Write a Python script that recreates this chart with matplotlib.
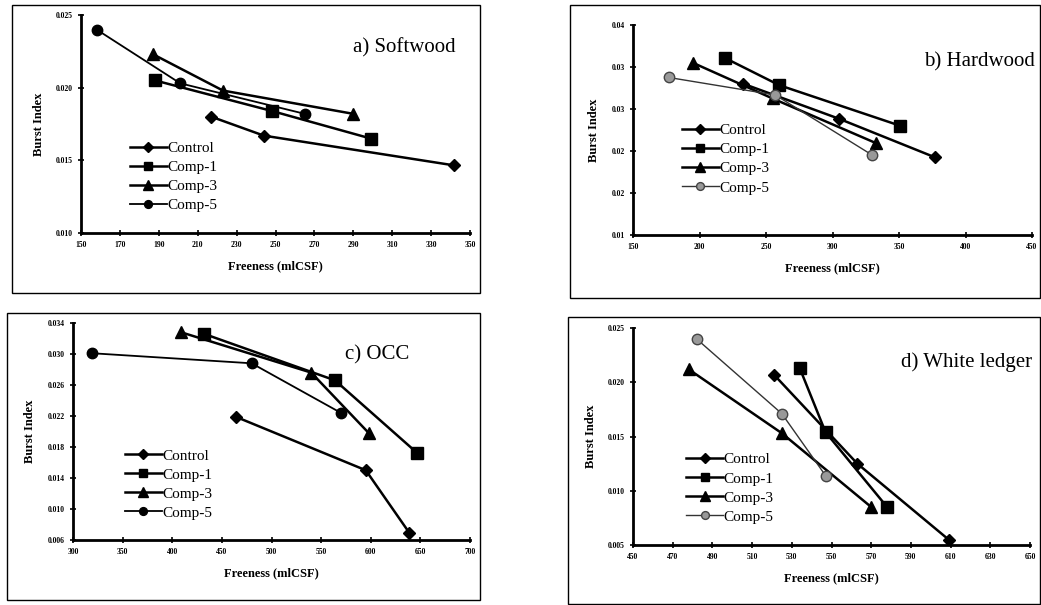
import numpy as np
import matplotlib
matplotlib.use('Agg')
import matplotlib.pyplot as plt
from matplotlib.patches import Rectangle

# ============================================================
# DATA (doc tu hinh)
# ============================================================
series = ["Control", "Comp-1", "Comp-3", "Comp-5"]

# a) Softwood
a_x_control = [217, 244, 342]
a_y_control = [0.0180, 0.0167, 0.01465]
a_x_comp1 = [188, 248, 299]
a_y_comp1 = [0.0205, 0.0184, 0.0165]
a_x_comp3 = [187, 223, 290]
a_y_comp3 = [0.0223, 0.0198, 0.0182]
a_x_comp5 = [158, 201, 265]
a_y_comp5 = [0.0240, 0.0203, 0.0182]

# b) Hardwood
b_x_control = [233, 305, 377]
b_y_control = [0.0316, 0.0266, 0.0211]
b_x_comp1 = [219, 260, 351]
b_y_comp1 = [0.0353, 0.0314, 0.0256]
b_x_comp3 = [195, 255, 333]
b_y_comp3 = [0.0346, 0.0295, 0.0231]
b_x_comp5 = [177, 257, 330]
b_y_comp5 = [0.0325, 0.0300, 0.0214]

# c) OCC
c_x_control = [464, 595, 639]
c_y_control = [0.0219, 0.0150, 0.0069]
c_x_comp1 = [432, 564, 647]
c_y_comp1 = [0.0326, 0.0266, 0.0172]
c_x_comp3 = [409, 540, 598]
c_y_comp3 = [0.0328, 0.0276, 0.0198]
c_x_comp5 = [319, 480, 570]
c_y_comp5 = [0.0301, 0.0288, 0.0224]

# d) White ledger
d_x_control = [521, 563, 609]
d_y_control = [0.0207, 0.0125, 0.0055]
d_x_comp1 = [534, 547, 578]
d_y_comp1 = [0.0213, 0.0154, 0.0085]
d_x_comp3 = [478, 525, 570]
d_y_comp3 = [0.0212, 0.0153, 0.0085]
d_x_comp5 = [482, 525, 547]
d_y_comp5 = [0.0240, 0.0171, 0.0114]

a_xticks = np.arange(150, 351, 20)
a_yticks = [0.010, 0.015, 0.020, 0.025]
b_xticks = np.arange(150, 451, 50)
b_yticks = [0.010, 0.016, 0.022, 0.028, 0.034, 0.040]
c_xticks = np.arange(300, 701, 50)
c_yticks = [0.006, 0.010, 0.014, 0.018, 0.022, 0.026, 0.030, 0.034]
d_xticks = np.arange(450, 651, 20)
d_yticks = [0.005, 0.010, 0.015, 0.020, 0.025]

SERIF = ['Liberation Serif', 'DejaVu Serif']
W, H = 1041, 605

fig = plt.figure(figsize=(W / 100, H / 100), dpi=100)
fig.patch.set_facecolor('white')


def px_axes(x0, y0, x1, y1):
    # toa do pixel (goc tren trai) -> figure coords
    return fig.add_axes([x0 / W, 1 - y1 / H, (x1 - x0) / W, (y1 - y0) / H])


def box(x0, y0, x1, y1):
    fig.patches.append(Rectangle((x0 / W, 1 - y1 / H), (x1 - x0) / W, (y1 - y0) / H,
                                 transform=fig.transFigure, fill=False,
                                 edgecolor='black', linewidth=1.0))


def panel(ax, data, xticks, yticks, yfmt, title, title_xy, leg_xy, gray5=False):
    styles = [
        dict(marker='D', markersize=6.5, lw=1.8, color='black'),
        dict(marker='s', markersize=8, lw=1.8, color='black'),
        dict(marker='^', markersize=9, lw=1.8, color='black'),
        dict(marker='o', markersize=7.5, lw=1.3, color='black'),
    ]
    if gray5:
        styles[3].update(markerfacecolor='#999999', markeredgecolor='#444444',
                         color='#333333', lw=1.0)
    for (xs, ys), name, st in zip(data, series, styles):
        ax.plot(xs, ys, label=name, **st)
    ax.set_xlim(xticks[0], xticks[-1])
    ax.set_ylim(yticks[0], yticks[-1])
    ax.set_xticks(xticks)
    ax.set_yticks(yticks)
    ax.set_yticklabels([yfmt % v for v in yticks])
    for s in ['top', 'right']:
        ax.spines[s].set_visible(False)
    for s in ['left', 'bottom']:
        ax.spines[s].set_linewidth(2.0)
    ax.tick_params(direction='inout', length=4, width=1.2, labelsize=5.5, pad=4)
    for lab in ax.get_xticklabels() + ax.get_yticklabels():
        lab.set_fontweight('bold')
        lab.set_family(SERIF)
    ax.set_xlabel("Freeness (mlCSF)", fontsize=9, fontweight='bold', family=SERIF, labelpad=8)
    ax.set_ylabel("Burst Index", fontsize=9, fontweight='bold', family=SERIF, labelpad=8)
    ax.text(title_xy[0], title_xy[1], title, transform=ax.transAxes, ha='right', va='center',
            fontsize=15, family=SERIF)
    ax.legend(loc='upper left', bbox_to_anchor=leg_xy, frameon=False,
              prop=dict(family=SERIF, size=11), handlelength=2.4, handletextpad=0.05,
              labelspacing=0.35, borderpad=0, borderaxespad=0, markerscale=0.75)
    ax.set_facecolor('none')


# khung ngoai
box(12, 5, 480, 293)
box(570, 5, 1040, 298)
box(7, 313, 480, 600)
box(568, 317, 1040, 604)

ax_a = px_axes(81, 15, 470, 233)
panel(ax_a,
      [(a_x_control, a_y_control), (a_x_comp1, a_y_comp1),
       (a_x_comp3, a_y_comp3), (a_x_comp5, a_y_comp5)],
      a_xticks, a_yticks, "%.3f", "a) Softwood", (0.964, 0.849), (0.126, 0.42))

ax_b = px_axes(633, 25, 1032, 235)
panel(ax_b,
      [(b_x_control, b_y_control), (b_x_comp1, b_y_comp1),
       (b_x_comp3, b_y_comp3), (b_x_comp5, b_y_comp5)],
      b_xticks, b_yticks, "%.2f", "b) Hardwood", (1.007, 0.824), (0.123, 0.53), gray5=True)

ax_c = px_axes(73, 323, 470, 540)
panel(ax_c,
      [(c_x_control, c_y_control), (c_x_comp1, c_y_comp1),
       (c_x_comp3, c_y_comp3), (c_x_comp5, c_y_comp5)],
      c_xticks, c_yticks, "%.3f", "c) OCC", (0.846, 0.853), (0.131, 0.42))

ax_d = px_axes(633, 328, 1030, 545)
panel(ax_d,
      [(d_x_control, d_y_control), (d_x_comp1, d_y_comp1),
       (d_x_comp3, d_y_comp3), (d_x_comp5, d_y_comp5)],
      d_xticks, d_yticks, "%.3f", "d) White ledger", (1.005, 0.843), (0.134, 0.425), gray5=True)

fig.savefig("out.png", dpi=100)
